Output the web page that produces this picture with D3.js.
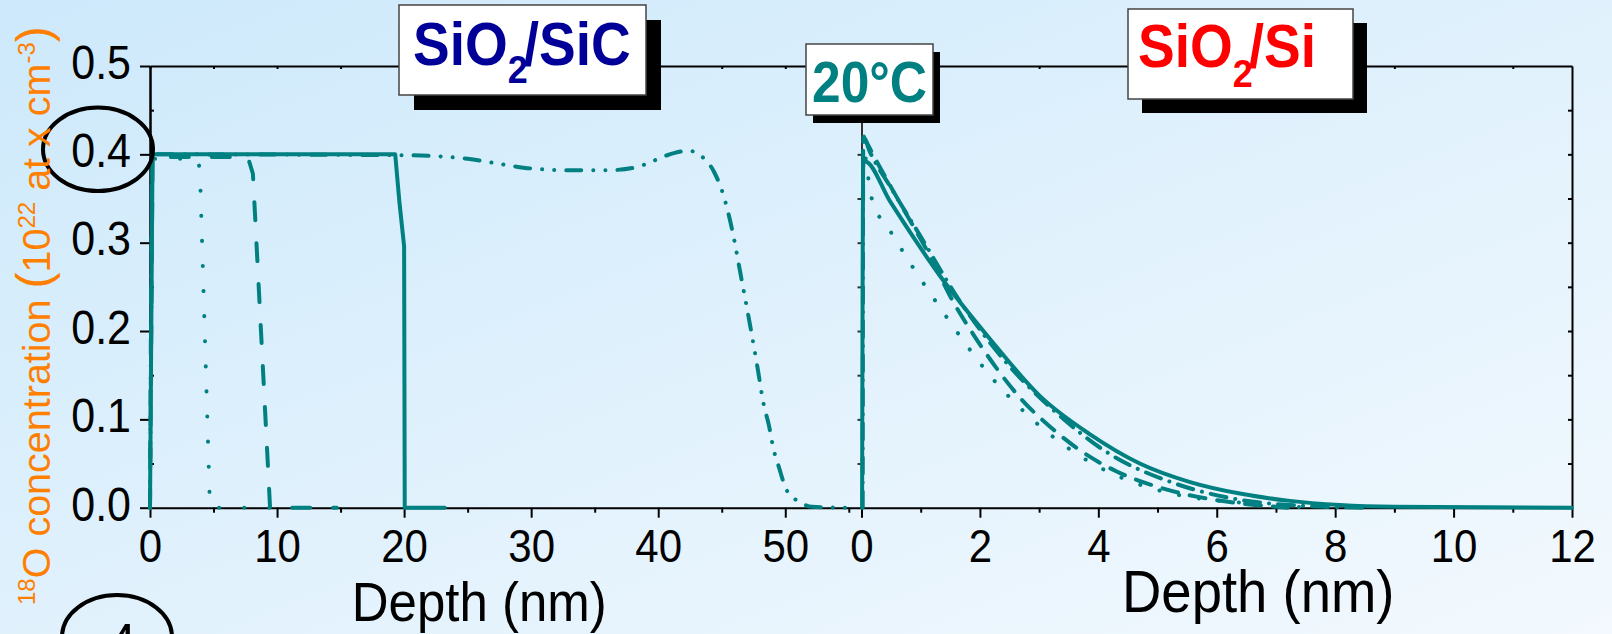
<!DOCTYPE html>
<html>
<head>
<meta charset="utf-8">
<script src="https://cdn.jsdelivr.net/npm/d3@7"></script>
<style>
  body { margin: 0; overflow: hidden; }
  svg { display: block; font-family: "Liberation Sans", Arial, sans-serif; }
</style>
</head>
<body>
<div id="chart"></div>
<script>
// ---- data (depth in nm, concentration in 10^22 at/cm3) ----
// SiO2/SiC panel
const sicSolid = [[0, 0], [0.2, 0.4], [19.3, 0.4], [19.63, 0.346], [20.0, 0.296], [20.05, 0.0], [23.2, 0.0]];
const sicDotted = [[0, 0], [0.2, 0.395], [3.8, 0.395], [3.94, 0.377], [4.72, 0.0], [10.0, 0.0]];
const sicDashed = [[0, 0], [0.2, 0.397], [7.7, 0.397], [8.1, 0.378], [9.45, 0.0], [14.7, 0.0]];
const sicDashDotDot = [[0, 0], [0.2, 0.4], [20, 0.399], [25, 0.395], [28, 0.388], [30, 0.384], [33, 0.382],
  [36, 0.382], [38.3, 0.3855], [39.2, 0.39], [40.7, 0.399], [42.4, 0.404], [43.4, 0.398], [44.4, 0.38],
  [45.15, 0.353], [45.9, 0.309], [46.5, 0.263], [47.2, 0.209], [47.8, 0.16], [48.3, 0.117], [48.7, 0.094],
  [49.1, 0.065], [49.5, 0.046], [50.1, 0.02], [51.2, 0.006], [52.1, 0.001], [54.7, 0.0]];

// SiO2/Si panel
const siSolid = [[0.01, 0], [0.03, 0.392], [0.06, 0.392], [0.48, 0.347], [1.33, 0.262], [2.17, 0.191], [3.02, 0.126],
  [3.86, 0.083], [4.7, 0.05], [5.55, 0.029], [6.39, 0.016], [7.2, 0.008], [8.08, 0.003], [9.0, 0.001], [12, 0.0]];
const siDashDot = [[0.02, 0.0], [0.03, 0.42], [0.14, 0.403], [0.48, 0.364], [0.99, 0.308], [1.61, 0.239],
  [2.45, 0.164], [3.3, 0.107], [4.14, 0.063], [5.27, 0.028], [6.39, 0.009], [7.52, 0.002], [8.5, 0.0]];
const siDashed = [[0.04, 0.42], [0.17, 0.403], [0.65, 0.345], [1.18, 0.282], [1.55, 0.233], [1.89, 0.196],
  [2.28, 0.158], [2.71, 0.122], [3.18, 0.092], [3.69, 0.065], [4.31, 0.041], [4.98, 0.024], [5.66, 0.0125],
  [6.39, 0.005], [7.2, 0.0]];
const siDotted = [[0.03, 0.418], [0.2, 0.343], [0.42, 0.32], [0.84, 0.275], [1.27, 0.232], [1.72, 0.189],
  [2.19, 0.148], [2.68, 0.113], [3.22, 0.081], [3.85, 0.052], [4.5, 0.031], [5.31, 0.015], [6.17, 0.007],
  [6.87, 0.004], [7.5, 0.0]];

// ticks
const yTicks = [0, 0.1, 0.2, 0.3, 0.4, 0.5];
const yMinor = [0.05, 0.15, 0.25, 0.35, 0.45];
const sicTicks = [0, 10, 20, 30, 40, 50];
const sicMinor = [5, 15, 25, 35, 45, 55];
const siTicks = [0, 2, 4, 6, 8, 10, 12];
const siMinor = [1, 3, 5, 7, 9, 11];

// ---- layout ----
const width = 1612, height = 634;
const S = 1.1; // the slide is a bit stretched vertically
const plotTop = 66, plotBottom = 507.7, left0 = 150, split = 861.5, right1 = 1572;
const teal = "#008080";

const svg = d3.select("#chart").append("svg")
  .attr("width", width)
  .attr("height", height);

// background
const grad = svg.append("defs").append("linearGradient")
  .attr("id", "bg").attr("x1", "0").attr("y1", "0").attr("x2", "1").attr("y2", "1");
grad.append("stop").attr("offset", "0").attr("stop-color", "#cde9fb");
grad.append("stop").attr("offset", "1").attr("stop-color", "#f3f9fe");
svg.append("rect").attr("width", width).attr("height", height).attr("fill", "url(#bg)");

const xSiC = d3.scaleLinear().domain([0, 56]).range([left0, split]);
const xSi = d3.scaleLinear().domain([0, 12]).range([split, right1]);
const y = d3.scaleLinear().domain([0, 0.5]).range([plotBottom, plotTop]);

function styleAxis(g, color) {
  g.selectAll("path.domain").attr("stroke", color || "#000").attr("stroke-width", 2);
  g.selectAll(".tick line").attr("stroke", color || "#000").attr("stroke-width", 2);
}

// bottom axes
function bottomAxis(x, major, minor) {
  const g = svg.append("g").attr("transform", `translate(0,${plotBottom})`)
    .call(d3.axisBottom(x).tickValues(major).tickSize(10).tickSizeOuter(0).tickFormat(d3.format("d")));
  styleAxis(g);
  g.selectAll(".tick text")
    .attr("y", 0).attr("dy", 0)
    .attr("transform", `translate(0,54.6) scale(1,${S})`)
    .attr("font-size", 42).attr("font-family", "Liberation Sans, Arial, sans-serif").attr("fill", "#000");
  const m = svg.append("g").attr("transform", `translate(0,${plotBottom})`)
    .call(d3.axisBottom(x).tickValues(minor).tickSize(5).tickSizeOuter(0).tickFormat(""));
  styleAxis(m);
  m.select("path.domain").remove();
}
bottomAxis(xSiC, sicTicks, sicMinor);
bottomAxis(xSi, siTicks, siMinor);

// top frame with small inward ticks
const topL = svg.append("g").attr("transform", `translate(0,${plotTop})`)
  .call(d3.axisBottom(xSiC).tickValues(sicTicks.concat(sicMinor)).tickSize(3).tickSizeOuter(0).tickFormat(""));
styleAxis(topL);
const topR = svg.append("g").attr("transform", `translate(0,${plotTop})`)
  .call(d3.axisBottom(xSi).tickValues(siMinor).tickSize(3).tickSizeOuter(0).tickFormat(""));
styleAxis(topR);

// left y axis
const yAx = svg.append("g").attr("transform", `translate(${left0},0)`)
  .call(d3.axisLeft(y).tickValues(yTicks).tickSize(10).tickSizeOuter(0).tickFormat(d3.format(".1f")));
styleAxis(yAx);
yAx.selectAll(".tick text")
  .attr("x", 0).attr("dy", 0)
  .attr("transform", `translate(-19,12.3) scale(1,${S})`)
  .attr("font-size", 43).attr("font-family", "Liberation Sans, Arial, sans-serif").attr("fill", "#000");
const yMin = svg.append("g").attr("transform", `translate(${left0},0)`)
  .call(d3.axisRight(y).tickValues(yMinor).tickSize(4).tickSizeOuter(0).tickFormat(""));
styleAxis(yMin);

// middle axis (left axis of the Si panel) and right frame
const mid = svg.append("g").attr("transform", `translate(${split},0)`)
  .call(d3.axisLeft(y).tickValues(yMinor.concat([0.1, 0.2, 0.3, 0.4])).tickSize(4).tickSizeOuter(0).tickFormat(""));
styleAxis(mid, "#333");
const rgt = svg.append("g").attr("transform", `translate(${right1},0)`)
  .call(d3.axisLeft(y).tickValues(yMinor.concat([0.1, 0.2, 0.3, 0.4])).tickSize(4).tickSizeOuter(0).tickFormat(""));
styleAxis(rgt);

// ---- curves ----
function drawLine(data, x, dash, curve) {
  svg.append("path")
    .datum(data)
    .attr("fill", "none")
    .attr("stroke", teal)
    .attr("stroke-width", 4)
    .attr("stroke-linecap", "round")
    .attr("stroke-linejoin", "round")
    .attr("stroke-dasharray", dash)
    .attr("d", d3.line()
      .curve(curve || d3.curveLinear)
      .x(function (d) { return x(d[0]); })
      .y(function (d) { return y(d[1]); }));
}

drawLine(sicDashDotDot, xSiC, "15 12 0.1 12 0.1 12", d3.curveMonotoneX);
drawLine(sicDashed, xSiC, "18 23");
drawLine(sicDotted, xSiC, "0.1 25");
drawLine(sicSolid, xSiC, null);

drawLine(siDotted, xSi, "0.1 20", d3.curveMonotoneX);
drawLine(siDashed, xSi, "16 12", d3.curveMonotoneX);
drawLine(siDashDot, xSi, "16 9 0.1 9", d3.curveMonotoneX);
drawLine(siSolid, xSi, null, d3.curveMonotoneX);

// ---- decorations ----
svg.append("ellipse").attr("cx", 98).attr("cy", 149.3).attr("rx", 55).attr("ry", 41.7)
  .attr("fill", "none").attr("stroke", "#000").attr("stroke-width", 4);
svg.append("ellipse").attr("cx", 117).attr("cy", 637).attr("rx", 55).attr("ry", 42)
  .attr("fill", "none").attr("stroke", "#000").attr("stroke-width", 4);
svg.append("text").attr("transform", `translate(122,664) scale(1,${S})`)
  .attr("text-anchor", "middle").attr("font-size", 52).attr("fill", "#000").text("4");

// axis titles
svg.append("text").attr("transform", `translate(351.7,620.7) scale(1,${S})`)
  .attr("font-size", 51).attr("fill", "#000").text("Depth (nm)");
svg.append("text").attr("transform", `translate(1122,612) scale(1,${S})`)
  .attr("font-size", 54.5).attr("fill", "#000").text("Depth (nm)");

const yl = svg.append("text").attr("transform", "translate(50,605) rotate(-90)")
  .attr("font-size", 39.5).attr("fill", "#ff8000");
yl.append("tspan").attr("font-size", 24).attr("dy", -15).text("18");
yl.append("tspan").attr("dy", 15).text("O concentration ");
yl.append("tspan").attr("font-size", 48).text("(");
yl.append("tspan").text("10");
yl.append("tspan").attr("font-size", 24).attr("dy", -15).text("22");
yl.append("tspan").attr("dy", 15).text(" at x cm");
yl.append("tspan").attr("font-size", 24).attr("dy", -15).text("-3");
yl.append("tspan").attr("font-size", 48).attr("dy", 15).text(")");

// title boxes with drop shadow
function titleBox(box, shadow, color, parts, tx, ty, fs, subFs, subDy) {
  svg.append("rect").attr("x", box[0] + shadow[0]).attr("y", box[1] + shadow[1])
    .attr("width", box[2] - box[0]).attr("height", box[3] - box[1]).attr("fill", "#000");
  svg.append("rect").attr("x", box[0]).attr("y", box[1])
    .attr("width", box[2] - box[0]).attr("height", box[3] - box[1])
    .attr("fill", "#fff").attr("stroke", "#444").attr("stroke-width", 1.5);
  const t = svg.append("text").attr("transform", `translate(${tx},${ty}) scale(1,${S})`)
    .attr("font-weight", "bold").attr("font-size", fs).attr("fill", color);
  t.append("tspan").text(parts[0]);
  if (parts.length > 1) {
    t.append("tspan").attr("font-size", subFs).attr("dy", subDy / S).text(parts[1]);
    t.append("tspan").attr("dy", -subDy / S).attr("dx", -4).text(parts[2]);
  }
}
titleBox([399, 5, 646, 95], [15, 15], "#000099", ["SiO", "2", "/SiC"], 413, 65, 55, 36, 18);
titleBox([806, 44, 933, 115], [7, 8], teal, ["20°C"], 812, 101.7, 51.5);
titleBox([1128, 9, 1353, 99], [14, 14], "#ff0000", ["SiO", "2", "/Si"], 1138, 67, 55, 36, 20);
</script>
</body>
</html>
